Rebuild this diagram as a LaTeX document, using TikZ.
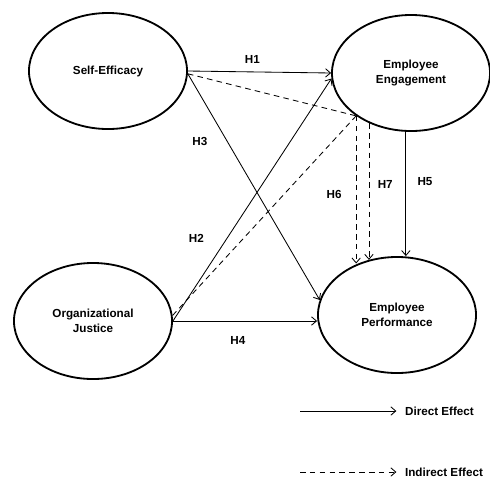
\documentclass[tikz,border=0pt]{standalone}
\usepackage{fontspec}
\setmainfont{Liberation Sans}
\usetikzlibrary{shapes.geometric, arrows.meta}
\begin{document}
\begin{tikzpicture}[x=0.025cm, y=-0.025cm,
		construct/.style={draw, ellipse, line width=1.3pt, minimum width=3.95cm, minimum height=2.9cm, inner sep=0pt, align=center, font=\fontsize{8.3}{10}\selectfont\bfseries},
		direct/.style={-{Straight Barb[length=3.5pt, width=6pt]}, line width=0.6pt},
		indirect/.style={-{Straight Barb[length=3.5pt, width=6pt]}, line width=0.6pt, dash pattern=on 4pt off 3pt},
		hyp/.style={font=\fontsize{8.3}{10}\selectfont\bfseries, inner sep=2pt}]
		\useasboundingbox (0,0) rectangle (490,481);
		% Nodes
		\node[construct] (se) at (108,71) {Self-Efficacy};
		\node[construct] (ee) at (411,73) {Employee\\[1pt]Engagement};
		\node[construct] (oj) at (93,321) {Organizational\\[1pt]Justice};
		\node[construct] (ep) at (397,315) {Employee\\[1pt]Performance};

		% Arrows
		\draw[direct] (se.east) -- node[hyp, above=4pt, pos=0.45] {H1} (ee.west);
		\draw[direct] (se.-2) -- node[hyp, left=12pt, pos=0.3] {H3} (ep.169);
		\draw[direct] (oj.east) -- node[hyp, left=14pt, pos=0.34] {H2} (ee.184);
		\draw[direct] (oj.east) -- node[hyp, below=9pt, pos=0.45] {H4} (ep.west |- oj.east);
		\draw[direct] (ee.265) -- node[hyp, right=6pt, pos=0.4] {H5} (ee.265 |- ep.north);
		\draw[indirect, -] (se.-2) -- (ee.218);
		\draw[indirect, -] (oj.4) -- (ee.218);
		\draw[indirect] (ee.218) -- node[hyp, left=8pt, pos=0.53] {H6} (ee.218 |- ep.127);
		\draw[indirect] (ee.230) -- node[hyp, right=4pt, pos=0.45] {H7} (ee.230 |- ep.117);

		% Legend
		\node[hyp, anchor=west] (dlabel) at (402,411) {Direct Effect};
		\node[hyp, anchor=west] (ilabel) at (402,472) {Indirect Effect};
		\coordinate (dstart) at (300,411);
		\coordinate (istart) at (300,472);
		\draw[direct, shorten >=4pt] (dstart) -- (dlabel);
		\draw[indirect, shorten >=4pt] (istart) -- (ilabel);
	\end{tikzpicture}
\end{document}
